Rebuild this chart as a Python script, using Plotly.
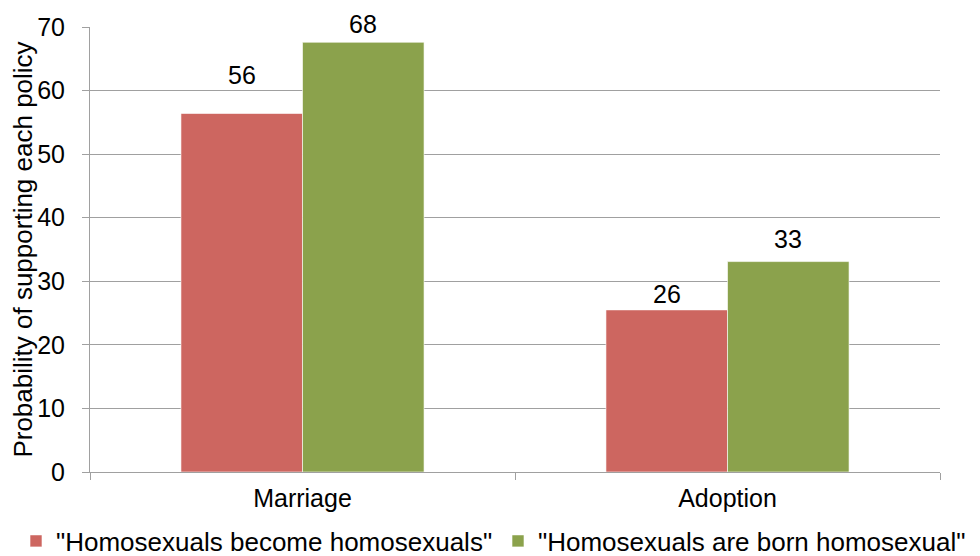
import plotly.graph_objects as go

categories = ["Marriage", "Adoption"]
become_vals = [56.4, 25.5]
born_vals = [67.6, 33.1]
series_names = ['"Homosexuals become homosexuals"', '"Homosexuals are born homosexual"']
y_ticks = [0, 10, 20, 30, 40, 50, 60, 70]

FONT = "Liberation Sans, Arial, sans-serif"
FS = 25
BARGAP = 0.428
COLORS = ["#CD6660", "#8BA24C"]
# vertical pixel lift of each data label above its bar (style, per series)
LABEL_LIFT = [[23, 1], [3, 8]]

fig = go.Figure()
series = [become_vals, born_vals]
legends = ["legend", "legend2"]
for k, (name, vals) in enumerate(zip(series_names, series)):
    fig.add_trace(go.Bar(
        x=categories, y=vals, name=name,
        marker=dict(color=COLORS[k], line=dict(color="rgba(255,255,255,0.6)", width=1)),
        legend=legends[k],
    ))

# data labels placed on the axes' scales
bar_w = (1 - BARGAP) / 2
for k, vals in enumerate(series):
    offset = (k - 0.5) * bar_w
    for i, v in enumerate(vals):
        fig.add_annotation(
            x=i + offset, y=v, xref="x", yref="y",
            text=f"{round(v)}", showarrow=False,
            xanchor="center", yanchor="bottom", yshift=LABEL_LIFT[k][i],
            font=dict(family=FONT, size=FS, color="#000000"),
            borderpad=0,
        )

W, H = 972, 548
fig.update_layout(
    width=W, height=H,
    margin=dict(l=82, r=40, t=19, b=84, autoexpand=False),
    paper_bgcolor="white", plot_bgcolor="white",
    barmode="group", bargap=BARGAP, bargroupgap=0,
    font=dict(family=FONT, size=FS, color="#000000"),
    showlegend=True,
    legend=dict(orientation="h", xref="container", yref="container",
                x=8 / W, xanchor="left", y=1 - 533 / H, yanchor="middle",
                font=dict(size=26, family=FONT), itemwidth=30),
    legend2=dict(orientation="h", xref="container", yref="container",
                 x=490 / W, xanchor="left", y=1 - 533 / H, yanchor="middle",
                 font=dict(size=26, family=FONT), itemwidth=30),
    xaxis=dict(
        type="category", showgrid=False, showline=True, linecolor="#A0A0A0",
        linewidth=1, ticks="outside", tickson="boundaries", ticklen=7,
        tickcolor="#A0A0A0", tickfont=dict(size=FS, family=FONT),
        automargin=False, ticklabelstandoff=4,
    ),
    yaxis=dict(
        range=[0, 70], tickvals=y_ticks, showgrid=True, gridcolor="#A0A0A0",
        gridwidth=1, showline=True, linecolor="#A0A0A0", linewidth=1,
        ticks="outside", ticklen=7, tickcolor="#A0A0A0",
        tickfont=dict(size=FS, family=FONT), zeroline=False,
        automargin=False, ticklabelstandoff=12,
        title=dict(text="Probability of supporting each policy",
                   font=dict(size=26, family=FONT), standoff=6),
    ),
)

fig.write_html("out.html")
